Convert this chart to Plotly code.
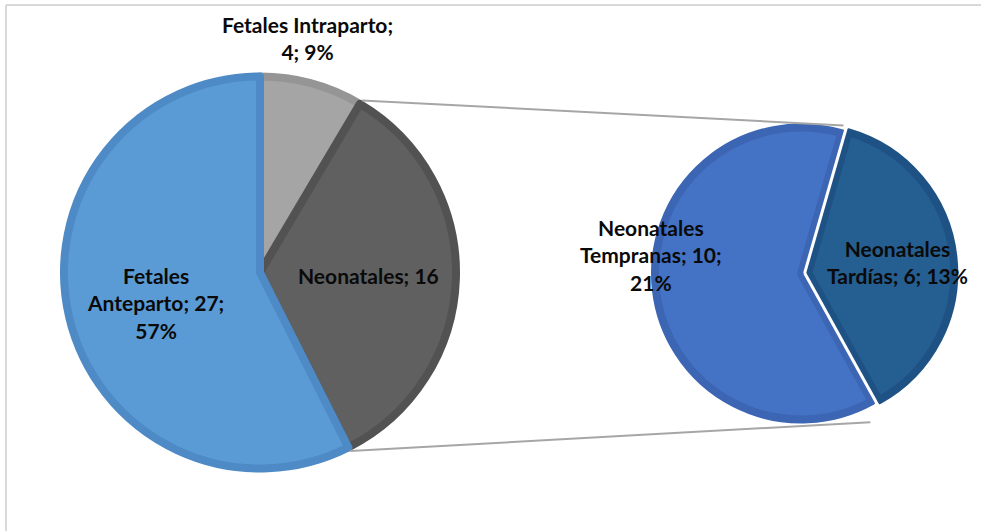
import math
import plotly.graph_objects as go

W, H = 981, 531

# Main pie: perinatal deaths by type
main_labels = ["Fetales Intraparto", "Neonatales", "Fetales Anteparto"]
main_values = [4, 16, 27]
main_colors = ["#A5A5A5", "#606060", "#5B9BD5"]
main_edges = ["#959595", "#525252", "#4E8BC6"]

# Secondary pie: breakdown of the neonatal slice
sub_labels = ["Neonatales Tardías", "Neonatales Tempranas"]
sub_values = [6, 10]
sub_colors = ["#255E91", "#4472C4"]
sub_edges = ["#1F5284", "#3C66B3"]

total = sum(main_values)

# pixel geometry of the two pies
MAIN_C = (260.0, 272.5)
MAIN_R = 200.0
SUB_C = (801.0, 273.5)
SUB_R = 150.0
EDGE_W = 8
PULL = 0.05
SUB_ROT = 16.0
# where the connector lines meet the secondary pie
CONN_TOP = (SUB_ROT, SUB_R + 4)
CONN_BOT_EXTRA = (4.0, SUB_R + 14)


def px(x):
    return x / W


def py(y):
    return 1 - y / H


def domain(c, r_outer, pull=0.0):
    r = r_outer - EDGE_W / 2
    half = r * (1 + pull)
    return dict(x=[px(c[0] - half), px(c[0] + half)],
                y=[py(c[1] + half), py(c[1] - half)])


def point(c, r, ang):
    a = math.radians(ang)
    return c[0] + r * math.sin(a), c[1] - r * math.cos(a)


def pct(v):
    return round(100 * v / total)


fig = go.Figure()

fig.add_trace(go.Pie(
    labels=main_labels, values=main_values, sort=False,
    direction="clockwise", rotation=0,
    marker=dict(colors=main_colors, line=dict(color=main_edges, width=EDGE_W)),
    textinfo="none", hoverinfo="label+value+percent", showlegend=False,
    domain=domain(MAIN_C, MAIN_R),
))

fig.add_trace(go.Pie(
    labels=sub_labels, values=sub_values, sort=False,
    direction="clockwise", rotation=SUB_ROT, pull=[PULL, 0],
    marker=dict(colors=sub_colors, line=dict(color=sub_edges, width=EDGE_W)),
    textinfo="none", hoverinfo="label+value", showlegend=False,
    domain=domain(SUB_C, SUB_R, PULL),
))

# connector lines between the neonatal slice and the secondary pie
a1 = 360.0 * main_values[0] / total
a2 = 360.0 * (main_values[0] + main_values[1]) / total
b2 = SUB_ROT + 360.0 * sub_values[0] / sum(sub_values)
ends = [
    (point(MAIN_C, MAIN_R, a1), point(SUB_C, CONN_TOP[1], CONN_TOP[0])),
    (point(MAIN_C, MAIN_R, a2), point(SUB_C, CONN_BOT_EXTRA[1], b2 + CONN_BOT_EXTRA[0])),
]
shapes = []
for (x0, y0), (x1, y1) in ends:
    shapes.append(dict(type="line", xref="paper", yref="paper",
                       x0=px(x0), y0=py(y0), x1=px(x1), y1=py(y1),
                       line=dict(color="#A6A6A6", width=2), layer="above"))

# white seam around the exploded slice of the secondary pie
r_in = SUB_R - EDGE_W / 2
mid_ang = (SUB_ROT + b2) / 2
shift = point((0.0, 0.0), r_in * PULL / 2, mid_ang)
seam_c = (SUB_C[0] + shift[0], SUB_C[1] + shift[1])
for ang in (SUB_ROT, b2):
    ex, ey = point(seam_c, SUB_R + 2, ang)
    shapes.append(dict(type="line", xref="paper", yref="paper",
                       x0=px(seam_c[0]), y0=py(seam_c[1]), x1=px(ex), y1=py(ey),
                       line=dict(color="white", width=3), layer="above"))

# chart-area frame (top and left edges)
shapes.append(dict(type="line", xref="paper", yref="paper",
                   x0=px(6), y0=py(5), x1=1.0, y1=py(5),
                   line=dict(color="#D9D9D9", width=2)))
shapes.append(dict(type="line", xref="paper", yref="paper",
                   x0=px(6), y0=py(5), x1=px(6), y1=0.0,
                   line=dict(color="#D9D9D9", width=2)))

label_font = dict(family="Lato, 'Open Sans', sans-serif", size=21, color="#0A0A0A")

labels = [
    (f"Fetales Intraparto;<br>{main_values[0]}; {pct(main_values[0])}%", 307, 38),
    (f"Fetales<br>Anteparto; {main_values[2]};<br>{pct(main_values[2])}%", 155, 303),
    (f"Neonatales; {main_values[1]}", 368, 275),
    (f"Neonatales<br>Tempranas; {sub_values[1]};<br>{pct(sub_values[1])}%", 651, 255),
    (f"Neonatales<br>Tardías; {sub_values[0]}; {pct(sub_values[0])}%", 897, 262),
]
annotations = [
    dict(text=f"<b>{t}</b>", x=px(x), y=py(y), xref="paper", yref="paper",
         xanchor="center", yanchor="middle", showarrow=False, align="center",
         font=label_font)
    for t, x, y in labels
]

fig.update_layout(
    width=W, height=H,
    margin=dict(l=0, r=0, t=0, b=0),
    paper_bgcolor="white", plot_bgcolor="white",
    shapes=shapes, annotations=annotations,
)

fig.write_html("out.html")
